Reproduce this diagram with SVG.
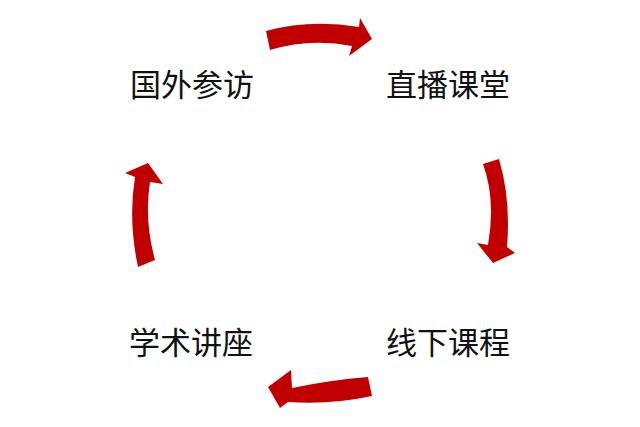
<svg xmlns="http://www.w3.org/2000/svg" width="640" height="427" viewBox="0 0 640 427">
<style>
.lbl{font-family:"Noto Sans CJK SC","Noto Sans",sans-serif;font-size:31px;fill:#111;}
.arr{fill:#C00000;}
</style>
<rect width="640" height="427" fill="#fff"/>
<g id="connectors">
<path class="arr" d="M266,31 Q310,19 359,27 L360,18 L372,39 L349,56 L352,46 Q310,38 270,50 Z"/>
<path class="arr" d="M499,159 Q511,200 507,247 L515,253 L493,263 L477,243 L488,245 Q496,200 483,164 Z"/>
<path class="arr" d="M372,396 Q330,405 288,402 L280,408 L268,387 L291,370 L292,388 Q330,380 368,377 Z"/>
<path class="arr" d="M138,267 Q128,220 135,177 L125,173 L148,163 L163,184 L150,182 Q144,220 155,260 Z"/>
</g>
<g id="node-guowai"><text class="lbl" x="130" y="96">国外参访</text></g>
<g id="node-zhibo"><text class="lbl" x="386" y="96">直播课堂</text></g>
<g id="node-xianxia"><text class="lbl" x="386" y="354">线下课程</text></g>
<g id="node-xueshu"><text class="lbl" x="129" y="354">学术讲座</text></g>
</svg>
